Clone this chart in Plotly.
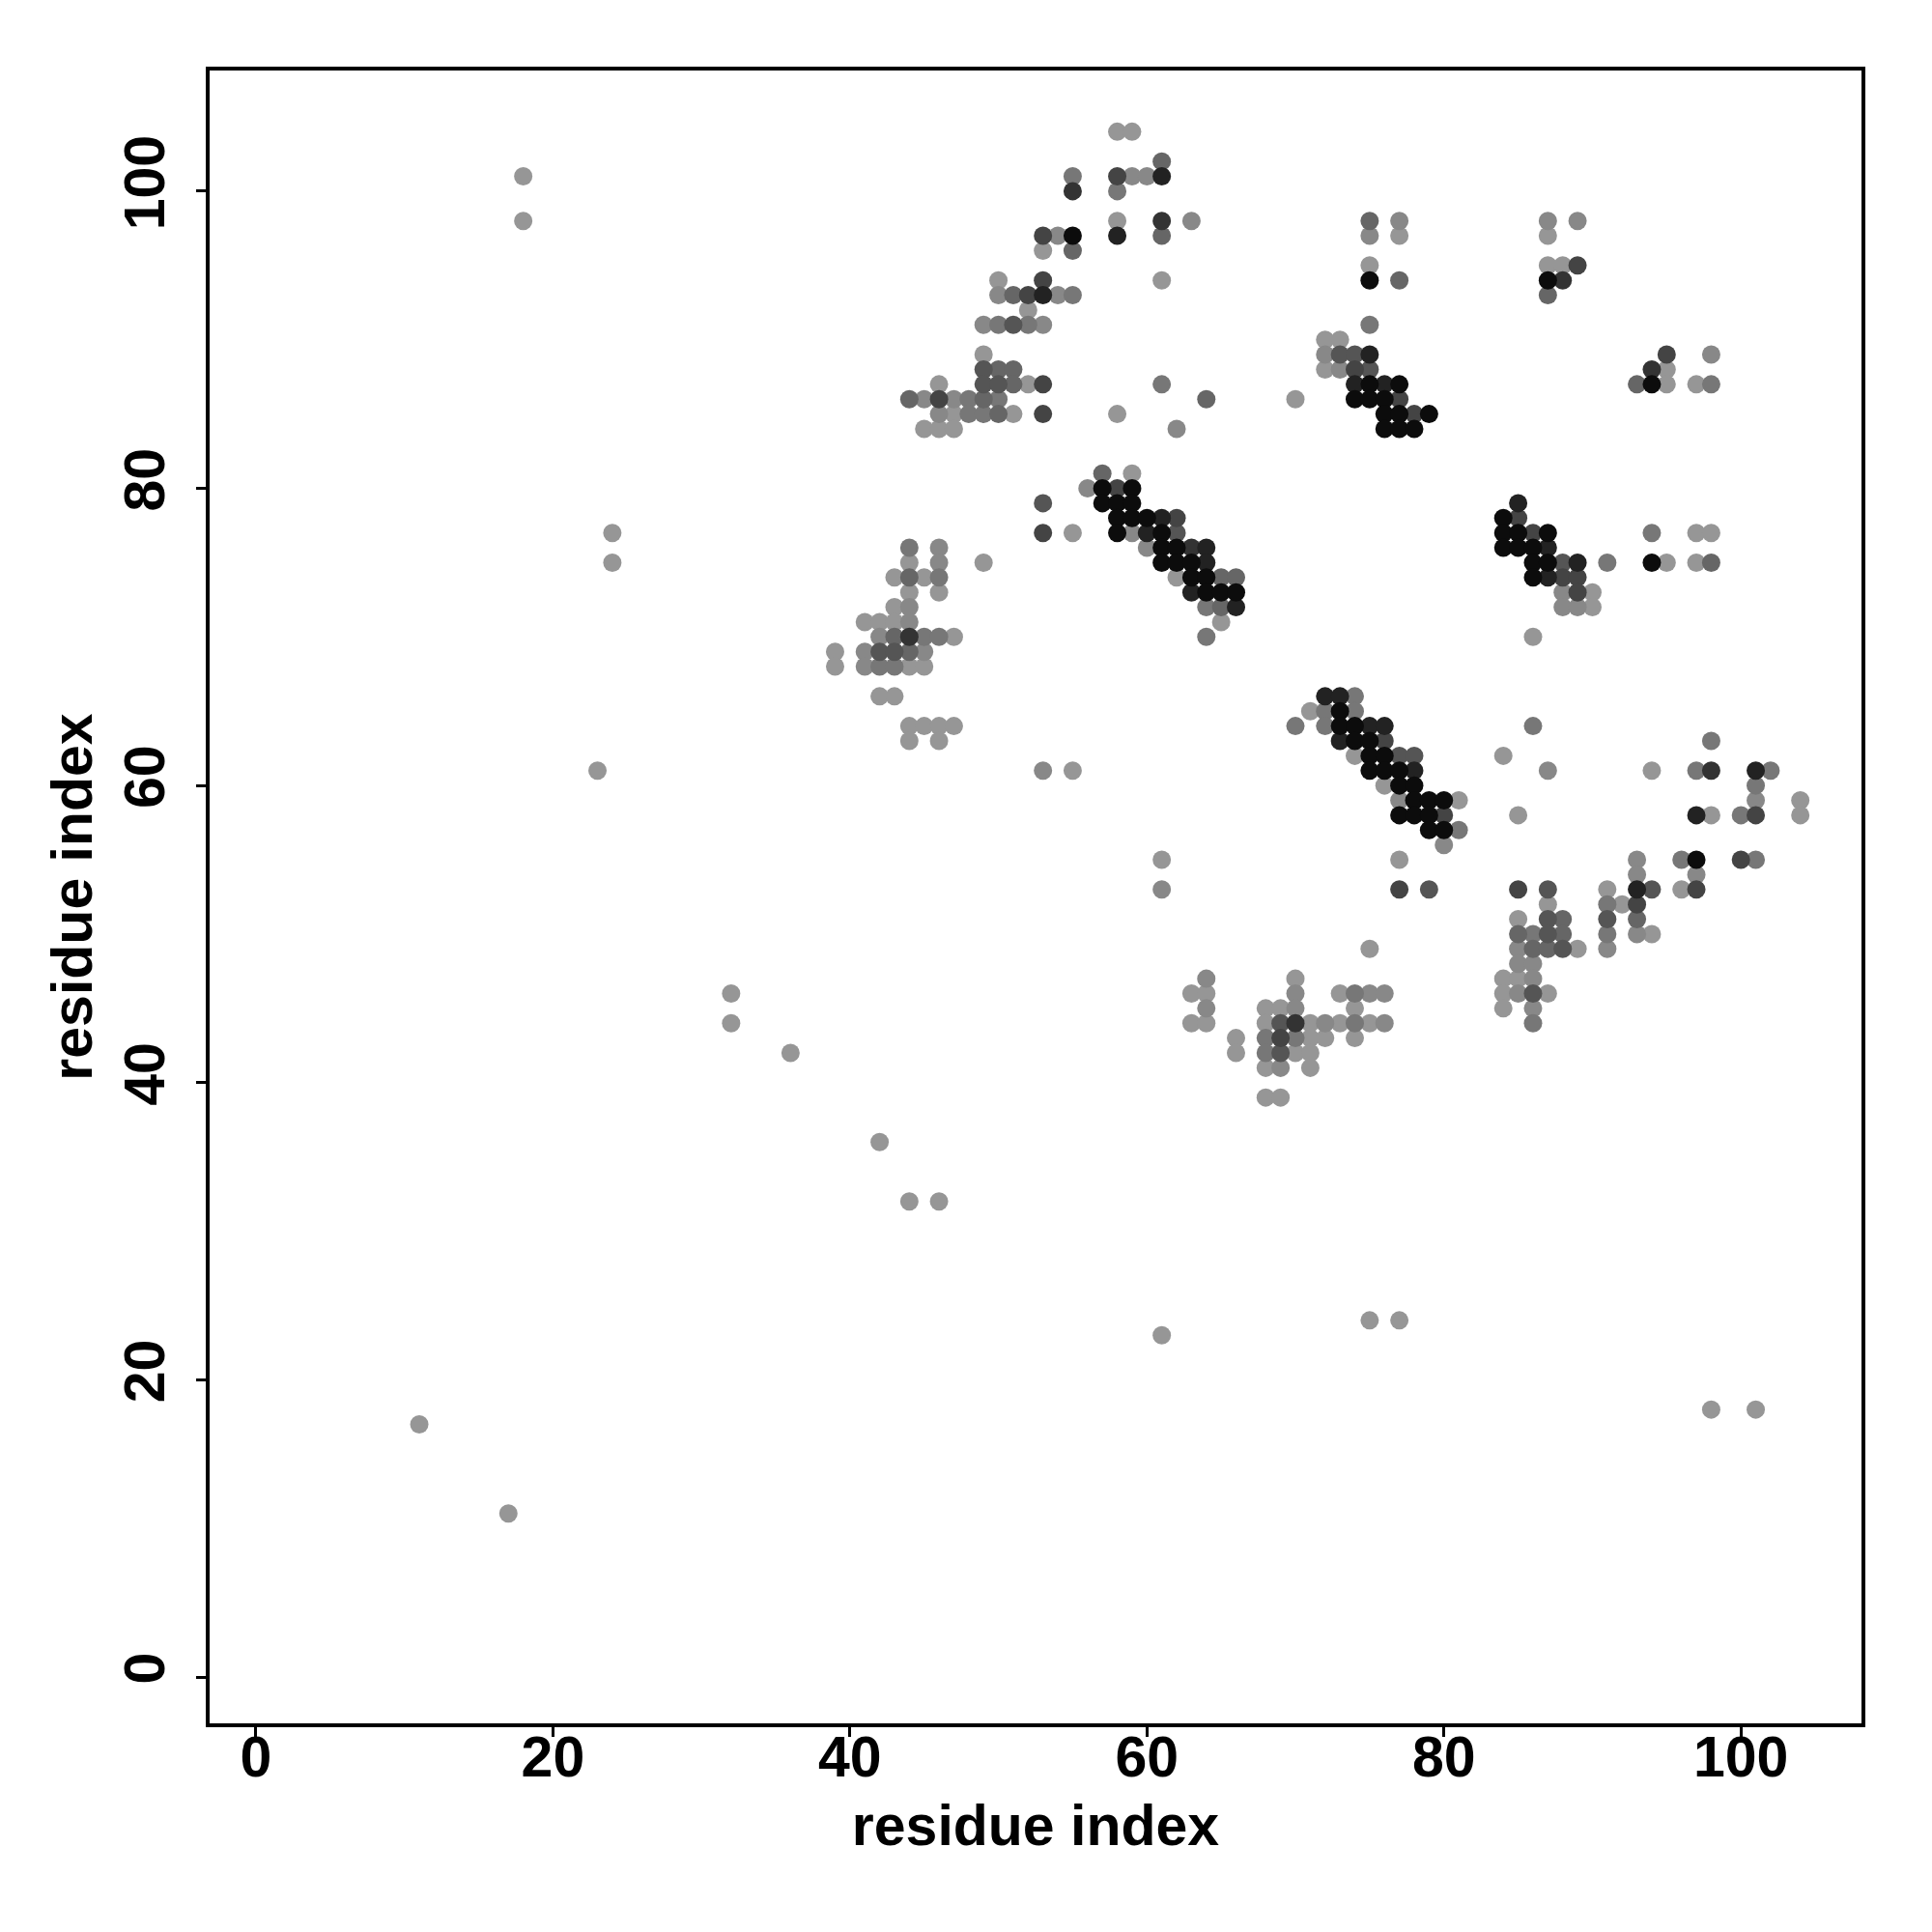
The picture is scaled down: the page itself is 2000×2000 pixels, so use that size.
import plotly.graph_objects as go

# contact map: residue i (x), residue j (y), shade level (1 = light grey ... 9 = black)
res_i = [
    58, 59,
    61,
    18, 55, 58, 59, 60, 61,
    55, 58,
    18, 58, 61, 63, 75, 77, 87, 89,
    53, 54, 55, 58, 61, 75, 77, 87,
    53, 55,
    75, 87, 88, 89,
    50, 53, 61, 75, 77, 87, 88,
    50, 51, 52, 53, 54, 55, 87,
    52,
    49, 50, 51, 52, 53, 75,
    72, 73,
    49, 72, 73, 74, 75, 95, 98,
    49, 50, 51, 72, 73, 74, 75, 94, 95,
    46, 49, 50, 51, 52, 53, 61, 74, 75, 76, 77, 93, 94, 95, 97, 98,
    44, 45, 46, 47, 48, 49, 50, 64, 70, 74, 75, 76, 77,
    46, 47, 48, 49, 50, 51, 53, 58, 76, 77, 78, 79,
    45, 46, 47, 62, 76, 77, 78,
    57, 59,
    56, 57, 58, 59,
    53, 57, 58, 59, 85,
    58, 59, 60, 61, 62, 84, 85,
    24, 53, 55, 58, 59, 60, 61, 62, 84, 85, 86, 87, 94, 97, 98,
    44, 46, 60, 61, 62, 63, 64, 84, 85, 86, 87,
    24, 44, 46, 49, 61, 62, 63, 64, 86, 87, 88, 89, 91, 94, 95, 97, 98,
    43, 44, 45, 46, 62, 63, 64, 65, 66, 86, 87, 88, 89,
    44, 46, 63, 64, 65, 66, 88, 89, 90,
    43, 44, 64, 65, 66, 88, 89, 90,
    41, 42, 43, 44, 65,
    42, 43, 44, 45, 46, 47, 64, 86,
    39, 41, 42, 43, 44, 45,
    39, 41, 42, 43, 44, 45,
    42, 43, 72, 73, 74,
    71, 72, 73, 74,
    44, 45, 46, 47, 70, 72, 73, 74, 75, 76, 86,
    44, 46, 73, 74, 75, 76, 98,
    74, 75, 76, 77, 78, 84,
    23, 53, 55, 75, 76, 77, 78, 87, 94, 97, 98, 101, 102,
    76, 77, 78, 101,
    77, 78, 79, 80, 81, 101, 104,
    77, 78, 79, 80, 85, 97, 98, 100, 101, 104,
    79, 80, 81,
    80,
    61, 77, 93, 96, 97, 100, 101,
    93, 97,
    61, 77, 79, 85, 87, 91, 93, 94, 96, 97,
    87, 91, 92, 93,
    85, 87, 88, 91, 93,
    85, 86, 87, 88, 91, 93, 94,
    75, 85, 86, 87, 88, 89, 91,
    85, 86,
    64, 70, 84, 85, 86,
    32, 63, 64, 70, 73, 74, 75, 76, 84, 85, 86, 87,
    64, 68, 69, 70, 74, 84, 86,
    32, 63, 64, 68, 69, 70, 71, 72, 73, 74, 75, 76, 86,
    66, 68, 69, 70, 71, 72, 74,
    36, 66, 68, 69, 70, 71,
    68, 69, 71,
    68, 69,
    42,
    44, 46,
    75, 77,
    61,
    98, 101,
    11,
    17,
]

res_j = (
    [104] * 2 + [102] * 1 + [101] * 6 + [100] * 2 + [98] * 8 + [97] * 8 + [96] * 2
    + [95] * 4 + [94] * 7 + [93] * 7 + [92] * 1 + [91] * 6 + [90] * 2 + [89] * 7
    + [88] * 9 + [87] * 16 + [86] * 13 + [85] * 12 + [84] * 7 + [81] * 2 + [80] * 4
    + [79] * 5 + [78] * 7 + [77] * 15 + [76] * 11 + [75] * 17 + [74] * 13 + [73] * 9
    + [72] * 8 + [71] * 5 + [70] * 8 + [69] * 6 + [68] * 6 + [66] * 5 + [65] * 4
    + [64] * 11 + [63] * 7 + [62] * 6 + [61] * 13 + [60] * 4 + [59] * 7 + [58] * 10
    + [57] * 3 + [56] * 1 + [55] * 7 + [54] * 2 + [53] * 10 + [52] * 4 + [51] * 5
    + [50] * 7 + [49] * 7 + [48] * 2 + [47] * 5 + [46] * 12 + [45] * 7 + [44] * 13
    + [43] * 7 + [42] * 6 + [41] * 3 + [39] * 2 + [36] * 1 + [32] * 2 + [24] * 2
    + [23] * 1 + [18] * 2 + [17] * 1 + [11] * 1
)

shade = [
    1, 1,
    4,
    1, 3, 6, 2, 2, 8,
    7, 3,
    1, 1, 7, 2, 4, 2, 2, 2,
    6, 2, 9, 8, 4, 2, 1, 1,
    1, 4,
    1, 1, 1, 6,
    1, 6, 1, 9, 4, 9, 7,
    2, 4, 6, 8, 2, 3, 4,
    1,
    2, 3, 5, 3, 2, 3,
    1, 1,
    1, 2, 5, 5, 8, 6, 2,
    5, 4, 4, 1, 2, 6, 5, 7, 1,
    1, 5, 5, 4, 1, 6, 3, 8, 9, 8, 9, 4, 9, 1, 1, 3,
    4, 2, 6, 2, 3, 4, 3, 4, 1, 9, 9, 9, 6,
    2, 1, 3, 3, 4, 1, 6, 1, 9, 9, 6, 9,
    1, 1, 1, 2, 9, 9, 9,
    4, 1,
    2, 9, 6, 9,
    5, 9, 9, 9, 8,
    9, 9, 9, 8, 6, 9, 6,
    1, 6, 1, 9, 2, 8, 9, 5, 9, 9, 6, 9, 3, 1, 1,
    3, 2, 2, 9, 9, 7, 8, 9, 9, 9, 8,
    1, 1, 2, 1, 9, 9, 9, 8, 9, 9, 5, 8, 3, 9, 1, 1, 4,
    1, 4, 1, 3, 1, 9, 9, 4, 4, 9, 8, 6, 6,
    1, 1, 8, 9, 9, 9, 2, 6, 1,
    1, 2, 3, 4, 8, 2, 2, 1,
    1, 1, 1, 2, 1,
    2, 4, 7, 3, 3, 1, 3, 1,
    1, 2, 5, 5, 4, 2,
    1, 2, 3, 3, 1, 1,
    1, 1, 8, 8, 3,
    1, 3, 9, 3,
    1, 1, 1, 1, 3, 3, 9, 9, 8, 8, 3,
    1, 1, 8, 9, 9, 6, 3,
    1, 9, 9, 5, 5, 1,
    1, 2, 1, 9, 9, 9, 8, 2, 1, 3, 7, 8, 3,
    1, 9, 9, 3,
    2, 9, 9, 9, 1, 2, 1,
    9, 9, 9, 6, 1, 8, 1, 3, 6, 1,
    9, 9, 3,
    2,
    1, 1, 2, 3, 9, 6, 3,
    2, 2,
    2, 6, 5, 6, 5, 1, 8, 5, 1, 6,
    1, 3, 1, 6,
    1, 5, 4, 5, 4,
    4, 3, 5, 4, 3, 2, 1,
    1, 2, 4, 4, 5, 1, 2,
    2, 2,
    2, 1, 1, 1, 2,
    1, 1, 1, 2, 1, 3, 2, 2, 1, 2, 5, 1,
    2, 1, 1, 2, 1, 1, 2,
    1, 1, 1, 1, 5, 7, 1, 2, 1, 3, 1, 2, 3,
    1, 3, 6, 3, 1, 1, 1,
    1, 1, 3, 5, 1, 1,
    1, 2, 1,
    1, 1,
    1,
    1, 1,
    1, 1,
    1,
    1, 1,
    1,
    1,
]

tick_vals = [0, 20, 40, 60, 80, 100]
axis_title = "residue index"

grey_levels = {1: 150, 2: 136, 3: 119, 4: 102, 5: 85, 6: 68, 7: 51, 8: 34, 9: 12}

n = min(len(res_i), len(res_j), len(shade))
order = sorted(range(n), key=lambda k: shade[k])
xs = [res_i[k] for k in order]
ys = [res_j[k] for k in order]
cols = ["rgb({0},{0},{0})".format(grey_levels[shade[k]]) for k in order]

fig = go.Figure(
    go.Scatter(
        x=xs, y=ys, mode="markers",
        marker=dict(size=19, color=cols, line=dict(width=0)),
        hoverinfo="x+y",
    )
)

font = dict(family="Liberation Sans, Arial, sans-serif", size=59, color="black", weight="bold")

axis_common = dict(
    range=[-3.12, 108.12],
    tickvals=tick_vals,
    ticks="outside",
    ticklen=10,
    tickwidth=2.5,
    tickcolor="black",
    showline=True,
    linecolor="black",
    linewidth=4,
    mirror=True,
    showgrid=False,
    zeroline=False,
    tickfont=font,
)

fig.update_layout(
    width=2000, height=2000,
    paper_bgcolor="white", plot_bgcolor="white",
    margin=dict(l=209, r=81, t=65, b=224),
    showlegend=False,
    xaxis=dict(**axis_common, ticklabelstandoff=-30,
               title=dict(text=axis_title, font=dict(font, size=59), standoff=19)),
    yaxis=dict(**axis_common, tickangle=-90, ticklabelstandoff=9,
               title=dict(text=axis_title, font=dict(font, size=59), standoff=4)),
)

fig.write_html("out.html")
